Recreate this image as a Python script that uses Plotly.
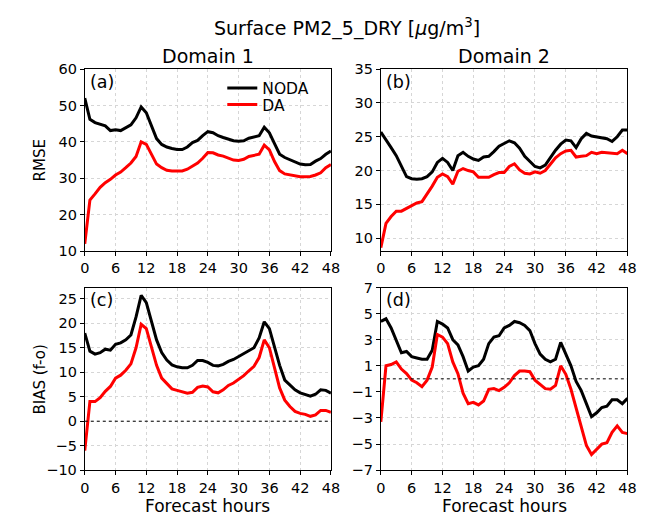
import plotly.graph_objects as go

hours = list(range(49))

rmse_d1_noda = [52.0, 46.2, 45.3, 44.9, 44.4, 43.1, 43.3, 43.1, 43.8, 44.7, 46.6, 49.6, 48.0, 44.4, 40.9, 39.3,
                38.6, 38.2, 37.9, 37.9, 38.6, 39.8, 40.4, 41.7, 42.8, 42.5, 41.7, 41.2, 40.7, 40.3, 40.2, 40.3,
                41.0, 41.3, 41.7, 44.0, 42.5, 39.5, 36.6, 35.7, 35.1, 34.5, 33.9, 33.7, 33.8, 34.7, 35.4, 36.6, 37.5]
rmse_d1_da = [12.0, 24.0, 25.7, 27.5, 28.8, 29.7, 30.9, 31.7, 32.9, 34.2, 36.0, 40.0, 39.3, 36.4, 33.9, 32.9,
              32.2, 32.0, 31.9, 32.0, 32.5, 33.3, 34.2, 35.5, 37.1, 37.0, 36.4, 36.1, 35.5, 35.0, 34.9, 35.2,
              36.0, 36.2, 36.6, 39.1, 37.8, 34.6, 32.1, 31.2, 30.9, 30.6, 30.4, 30.4, 30.5, 30.9, 31.5, 32.9, 33.8]

rmse_d2_noda = [25.7, 24.6, 23.4, 22.2, 20.6, 19.1, 18.8, 18.7, 18.8, 19.1, 19.8, 21.2, 21.8, 21.2, 20.0, 22.2,
                22.7, 22.1, 21.7, 21.5, 22.0, 22.1, 22.8, 23.6, 24.0, 24.4, 24.1, 23.3, 22.1, 21.4, 20.6, 20.4,
                20.8, 21.9, 23.0, 23.9, 24.5, 24.4, 23.4, 24.7, 25.5, 25.1, 25.0, 24.9, 24.7, 24.3, 25.0, 26.0, 26.0]
rmse_d2_da = [8.6, 12.2, 13.2, 14.0, 14.0, 14.4, 14.8, 15.2, 15.4, 16.5, 17.7, 19.0, 19.5, 19.1, 18.0, 19.9,
              20.3, 20.0, 19.8, 19.0, 19.0, 19.0, 19.4, 19.7, 19.7, 20.6, 21.0, 20.1, 19.6, 19.5, 19.8, 19.6,
              20.0, 21.0, 21.9, 22.5, 22.9, 23.0, 22.0, 22.1, 22.2, 22.7, 22.5, 22.7, 22.6, 22.5, 22.5, 23.0, 22.5]

bias_d1_noda = [18.0, 14.3, 13.7, 14.0, 14.7, 14.5, 15.7, 16.0, 16.6, 17.6, 21.3, 25.7, 24.2, 20.3, 16.6, 14.0,
                12.5, 11.5, 11.1, 10.9, 10.9, 11.4, 12.4, 12.4, 12.0, 11.4, 11.3, 11.6, 12.2, 12.6, 13.2, 13.7,
                14.3, 15.0, 17.0, 20.3, 18.9, 15.3, 11.4, 8.4, 7.4, 6.4, 5.8, 5.5, 5.1, 5.5, 6.4, 6.3, 5.7]
bias_d1_da = [-6.0, 4.0, 4.0, 4.8, 6.1, 7.1, 8.8, 9.4, 10.4, 11.7, 15.0, 19.8, 18.9, 15.0, 11.4, 8.8,
              7.6, 6.6, 6.3, 6.0, 5.7, 5.9, 6.9, 7.2, 7.0, 6.0, 5.8, 6.4, 7.3, 7.8, 8.6, 9.3,
              10.3, 11.2, 13.0, 16.6, 15.0, 11.1, 6.8, 4.3, 3.0, 2.0, 1.6, 1.4, 1.0, 1.3, 2.2, 2.2, 1.8]

bias_d2_noda = [4.4, 4.6, 3.9, 3.0, 2.0, 2.1, 1.7, 1.6, 1.5, 1.5, 2.2, 4.4, 4.2, 3.9, 3.0, 2.6,
                1.7, 0.6, 0.9, 1.0, 1.5, 2.7, 3.2, 3.3, 3.9, 4.1, 4.4, 4.3, 4.1, 3.7, 2.7, 1.9,
                1.5, 1.3, 1.5, 2.8, 1.9, 1.0, -0.2, -0.9, -1.9, -2.9, -2.6, -2.2, -2.1, -1.6, -1.6, -1.9, -1.5]
bias_d2_da = [-3.3, 1.0, 1.1, 1.3, 0.75, 0.4, -0.1, -0.3, -0.6, -0.1, 0.9, 3.4, 3.2, 2.7, 1.3, 0.4,
              -1.1, -1.9, -1.8, -2.0, -1.7, -0.8, -0.75, -0.9, -0.65, -0.3, 0.25, 0.6, 0.6, 0.55, -0.1, -0.45,
              -0.75, -0.8, -0.5, 1.0, 0.35, -0.8, -2.3, -3.7, -5.1, -5.8, -5.4, -5.0, -4.9, -4.1, -3.6, -4.1, -4.2]

x_ticks = [0, 6, 12, 18, 24, 30, 36, 42, 48]
panel_labels = ["(a)", "(b)", "(c)", "(d)"]
col_titles = ["Domain 1", "Domain 2"]

W, H = 659, 525
FONT = "DejaVu Sans"

fig = go.Figure()

# panel geometry in pixels (left, right, top, bottom)
panels = [
    (81.5, 333.0, 63.0, 250.7),
    (384.0, 636.0, 63.0, 250.7),
    (81.5, 333.0, 288.3, 476.7),
    (384.0, 636.0, 288.3, 476.7),
]
series = [
    (rmse_d1_noda, rmse_d1_da),
    (rmse_d2_noda, rmse_d2_da),
    (bias_d1_noda, bias_d1_da),
    (bias_d2_noda, bias_d2_da),
]
yranges = [[10, 60], [8.1, 35], [-10, 27.3], [-7, 7]]
yticks = [
    [10, 20, 30, 40, 50, 60],
    [10, 15, 20, 25, 30, 35],
    [-10, -5, 0, 5, 10, 15, 20, 25],
    [-7, -5, -3, -1, 1, 3, 5, 7],
]

for i, ((l, r, t, b), (noda, da)) in enumerate(zip(panels, series)):
    n = "" if i == 0 else str(i + 1)
    xa = "xaxis" + n
    ya = "yaxis" + n
    fig.add_trace(go.Scatter(x=hours, y=noda, mode="lines", name="NODA",
                             line=dict(color="black", width=3), legend="legend",
                             xaxis="x" + n, yaxis="y" + n, showlegend=(i == 0)))
    fig.add_trace(go.Scatter(x=hours, y=da, mode="lines", name="DA",
                             line=dict(color="red", width=3), legend="legend2",
                             xaxis="x" + n, yaxis="y" + n, showlegend=(i == 0)))
    common = dict(showline=True, linecolor="black", linewidth=1, mirror=True,
                  ticks="outside", ticklen=4, tickcolor="black", tickwidth=1,
                  showgrid=True, gridcolor="#d6d6d6", griddash="dot", gridwidth=1,
                  zeroline=False, tickfont=dict(family=FONT, size=14.5, color="black"))
    fig.update_layout(**{
        xa: dict(domain=[l / W, r / W], range=[0, 48], tickvals=x_ticks,
                 anchor="y" + n, **common),
        ya: dict(domain=[1 - b / H, 1 - t / H], range=yranges[i], tickvals=yticks[i],
                 anchor="x" + n, **common),
    })
    fig.add_annotation(text=panel_labels[i], xref="paper", yref="paper",
                       x=(l + 3) / W, y=1 - (t + 1) / H, xanchor="left", yanchor="top",
                       showarrow=False, font=dict(family=FONT, size=17.5, color="black"))
    if i >= 2:
        fig.add_shape(type="line", xref="x" + n, yref="y" + n, x0=0, x1=48, y0=0, y1=0,
                      line=dict(color="black", width=1, dash="dot"))
        fig.add_annotation(text="Forecast hours", xref="paper", yref="paper",
                           x=(l + r) / 2 / W, y=1 - 514 / H, xanchor="center", yanchor="middle",
                           showarrow=False, font=dict(family=FONT, size=17, color="black"))

fig.add_annotation(text="RMSE", xref="paper", yref="paper", x=36 / W, y=1 - 157 / H,
                   textangle=-90, showarrow=False, xanchor="center", yanchor="middle",
                   font=dict(family=FONT, size=15, color="black"))
fig.add_annotation(text="BIAS (f-o)", xref="paper", yref="paper", x=36 / W, y=1 - 383 / H,
                   textangle=-90, showarrow=False, xanchor="center", yanchor="middle",
                   font=dict(family=FONT, size=15, color="black"))
fig.add_annotation(text="Surface PM2_5_DRY [<i>μ</i>g/m<sup>3</sup>]", xref="paper", yref="paper",
                   x=349 / W, y=1 - 20 / H, showarrow=False, xanchor="center", yanchor="middle",
                   font=dict(family=FONT, size=19, color="black"))
for k, cx in enumerate([207, 510]):
    fig.add_annotation(text=col_titles[k], xref="paper", yref="paper",
                       x=cx / W, y=1 - 49 / H, showarrow=False, xanchor="center", yanchor="middle",
                       font=dict(family=FONT, size=19, color="black"))

leg_common = dict(xanchor="left", yanchor="middle", bgcolor="rgba(0,0,0,0)",
                  font=dict(family=FONT, size=15.5, color="black"), itemwidth=30)
fig.update_layout(
    width=W, height=H,
    margin=dict(l=0, r=0, t=0, b=0),
    paper_bgcolor="white", plot_bgcolor="white",
    showlegend=True,
    legend=dict(x=222 / W, y=1 - 83 / H, **leg_common),
    legend2=dict(x=222 / W, y=1 - 100 / H, **leg_common),
)

fig.write_html("out.html")
